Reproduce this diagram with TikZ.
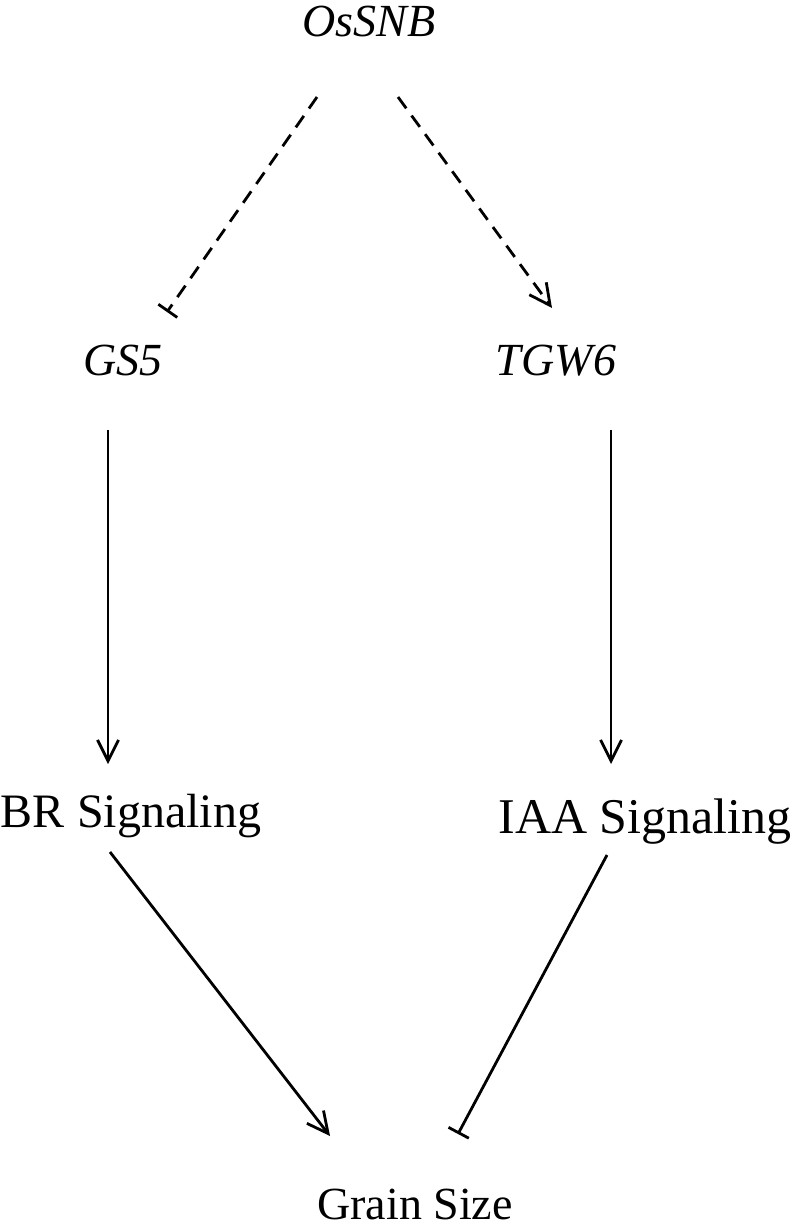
\documentclass[tikz,border=0pt]{standalone}
\usepackage{fontspec}
\setmainfont{Liberation Serif}
\usetikzlibrary{arrows.meta}
\begin{document}
\begin{tikzpicture}[x=1pt,y=-1pt,
  lbl/.style={inner sep=0pt, anchor=base, font=\fontsize{46}{50}\selectfont},
  conn/.style={line width=2.8pt},
  act/.style={conn,-{Straight Barb[length=21pt,width=21pt]}},
  inh/.style={conn,-{Bar[width=23pt]}},
  dsh/.style={dash pattern=on 14pt off 9pt}]
\useasboundingbox (0,0) rectangle (800,1227);
\node[lbl] (ossnb) at (369,36) {\textit{OsSNB}};
\node[lbl] (gs5) at (123,375) {\textit{GS5}};
\node[lbl] (tgw6) at (556,375) {\textit{TGW6}};
\node[lbl, font=\fontsize{48}{52}\selectfont] (br) at (131,827) {BR Signaling};
\node[lbl, font=\fontsize{50}{54}\selectfont] (iaa) at (645,833) {IAA Signaling};
\node[lbl] (grain) at (415,1219) {Grain Size};
\coordinate (c1s) at (317,97);  \coordinate (c1e) at (167,312);
\coordinate (c2s) at (398,97);  \coordinate (c2e) at (552,308);
\coordinate (c3s) at (108,430); \coordinate (c3e) at (108,764);
\coordinate (c4s) at (611,430); \coordinate (c4e) at (611,764);
\coordinate (c5s) at (110,852); \coordinate (c5e) at (330,1136);
\coordinate (c6s) at (607,855); \coordinate (c6e) at (458,1134);
\draw[inh,dsh] (c1s) -- (c1e);
\draw[act,dsh] (c2s) -- (c2e);
\draw[act] (c3s) -- (c3e);
\draw[act] (c4s) -- (c4e);
\draw[act] (c5s) -- (c5e);
\draw[inh] (c6s) -- (c6e);
\end{tikzpicture}
\end{document}
